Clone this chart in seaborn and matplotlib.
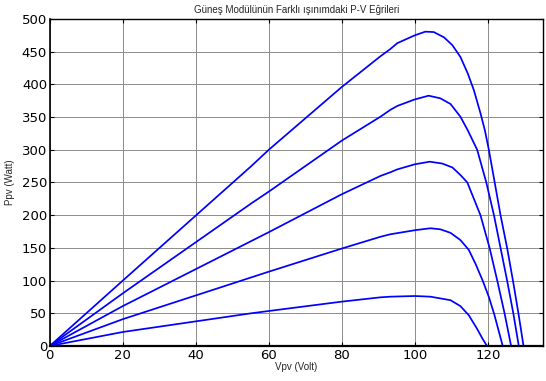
import matplotlib
matplotlib.use("Agg")
import matplotlib.pyplot as plt
import seaborn as sns
import pandas as pd

# Curve data (V in volts, P in watts)
v1 = [0, 20, 55.2, 60, 80, 90.6, 93.3, 95.2, 100, 102.9, 105.2, 108, 110.3, 112.5, 114.5, 116.2, 118, 119.2, 120.3, 121.9, 123.5, 125.3, 126.9, 128.4, 129.8]
p1 = [0, 100, 275, 300, 396, 443, 454, 463, 475, 480.6, 480, 472, 460, 442, 417, 391, 356, 330, 300, 250, 200, 150, 100, 50, 0]

v2 = [0, 20, 55.2, 60, 80, 90.6, 93.3, 95.2, 100, 103.8, 107, 109.8, 112.5, 114.5, 117.1, 119.6, 121.7, 123.5, 125.3, 127, 128.5]
p2 = [0, 80.5, 218, 236, 314, 350.6, 361, 367, 377, 382.7, 378.7, 370, 350.6, 330, 300, 250, 200, 150, 100, 50, 0]

v3 = [0, 20, 60, 80, 90.6, 93.3, 95.2, 100, 104.1, 107.5, 110.3, 112.5, 114.4, 116.2, 118, 120.5, 122.6, 124.6, 126.4]
p3 = [0, 61, 174, 232, 260, 265.6, 270, 277.8, 281.8, 279, 273, 261.5, 250, 225, 200, 150, 100, 50, 0]

v4 = [0, 20, 60, 80, 90.6, 93.3, 100, 104.3, 107, 109.8, 112.5, 114.8, 116.7, 118.6, 120.3, 121.8, 124.1]
p4 = [0, 41, 113.6, 149, 167, 170.8, 177, 180, 178.4, 173, 162, 147, 125, 100, 75, 48, 0]

v5 = [0, 20, 55.2, 60, 80, 90.6, 93.3, 100, 104.3, 109.8, 112.5, 114.8, 117.0, 118.5, 119.8]
p5 = [0, 21.4, 50, 53.5, 67.8, 74.4, 75.4, 76.4, 75.4, 70, 61, 47, 27, 11.7, 0]

curve_names = ["c1", "c2", "c3", "c4", "c5"]
x_ticks = [0, 20, 40, 60, 80, 100, 120]
y_ticks = [0, 50, 100, 150, 200, 250, 300, 350, 400, 450, 500]

title_text = "Güneş Modülünün Farklı ışınımdaki P-V Eğrileri"
xlabel_text = "Vpv (Volt)"
ylabel_text = "Ppv (Watt)"

frames = []
for name, v, p in zip(curve_names, [v1, v2, v3, v4, v5], [p1, p2, p3, p4, p5]):
    frames.append(pd.DataFrame({"V": v, "P": p, "curve": name}))
df = pd.concat(frames, ignore_index=True)

sns.set_theme(style="white")
plt.rcParams["font.family"] = ["Liberation Sans", "DejaVu Sans"]

fig = plt.figure(figsize=(5.46, 3.81), dpi=100)
ax = fig.add_axes([0.0912, 0.0919, 0.9024, 0.8583])

sns.lineplot(data=df, x="V", y="P", hue="curve", palette=["#0000ff"] * 5,
             sort=False, estimator=None, legend=False, linewidth=1.25, ax=ax)

ax.set_xlim(0, 135)
ax.set_ylim(0, 500)
ax.set_xticks(x_ticks)
ax.set_yticks(y_ticks)
ax.grid(True, color="#8c8c8c", linewidth=0.7, linestyle="-")
ax.set_axisbelow(True)

tick_font = ["Liberation Sans Narrow", "DejaVu Sans"]
for lab in ax.get_xticklabels() + ax.get_yticklabels():
    lab.set_family(tick_font)
    lab.set_fontsize(9.5)
ax.tick_params(direction="in", length=3, width=0.8, colors="black",
               top=True, right=True, bottom=True, left=True, pad=2)

for s in ax.spines.values():
    s.set_color("black")
    s.set_linewidth(1.0)
    s.set_visible(True)
ax.spines["bottom"].set_linewidth(1.6)
ax.spines["left"].set_linewidth(1.2)

ax.set_title(title_text, fontsize=7, pad=4)
ax.set_xlabel(xlabel_text, fontsize=7, labelpad=0)
ax.set_ylabel(ylabel_text, fontsize=7, labelpad=5)

fig.savefig("out.png", dpi=100)
